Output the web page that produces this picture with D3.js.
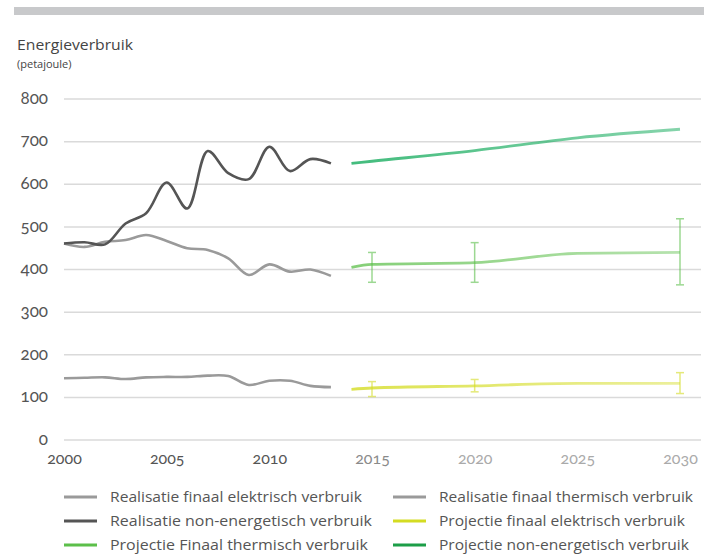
<!DOCTYPE html>
<html>
<head>
<meta charset="utf-8">
<script src="https://cdn.jsdelivr.net/npm/d3@7/dist/d3.min.js"></script>
<style>
  html, body { margin: 0; padding: 0; background: #fff; }
  svg { display: block; font-family: "Open Sans", "Noto Sans", sans-serif; }
  .num { font-family: "Lato", "Open Sans", sans-serif; font-feature-settings: "onum" 1; font-variant-numeric: oldstyle-nums; }
</style>
</head>
<body>
<svg id="chart" width="704" height="554"></svg>
<script>
// Historical years and values (petajoule)
const histYears = [2000, 2001, 2002, 2003, 2004, 2005, 2006, 2007, 2008, 2009, 2010, 2011, 2012, 2013];
const realElektrisch = [145, 146, 147, 143, 147, 148, 148, 151, 150, 129, 139, 139, 127, 124];
const realThermisch  = [461, 453, 465, 469, 481, 467, 450, 446, 426, 387, 412, 395, 400, 385];
const realNonEnerg   = [461, 464, 459, 508, 532, 604, 543, 678, 626, 612, 688, 631, 659, 649];

// Projection years and values
const projYears = [2014, 2015, 2020, 2025, 2030];
const projElektrisch = [119, 122, 127, 133, 133];
const projThermisch  = [405, 412, 416, 438, 440];
const projNonEnerg   = [649, 654, 679, 709, 729];

// Uncertainty ranges for projections: [year, low, high]
const errElektrisch = [[2015, 102, 137], [2020, 113, 142], [2030, 109, 158]];
const errThermisch  = [[2015, 370, 440], [2020, 370, 463], [2030, 364, 519]];

const yTicks = [0, 100, 200, 300, 400, 500, 600, 700, 800];
const xTicks = [2000, 2005, 2010, 2015, 2020, 2025, 2030];

const legendItems = [
  { label: "Realisatie finaal elektrisch verbruik", color: "#9a9a9a" },
  { label: "Realisatie finaal thermisch verbruik", color: "#9a9a9a" },
  { label: "Realisatie non-energetisch verbruik", color: "#555555" },
  { label: "Projectie finaal elektrisch verbruik", color: "#d4dc22" },
  { label: "Projectie Finaal thermisch verbruik", color: "#5cbf4a" },
  { label: "Projectie non-energetisch verbruik", color: "#1c9e48" }
];

const svg = d3.select("#chart");

const x = d3.scaleLinear().domain([2000, 2030]).range([64, 680]);
const y = d3.scaleLinear().domain([0, 800]).range([440, 99]);

// top rule
svg.append("rect").attr("x", 14).attr("y", 7).attr("width", 690).attr("height", 8).attr("fill", "#c8c9cb");

// titles
svg.append("text").attr("x", 17).attr("y", 50).attr("font-size", 15).attr("fill", "#444")
  .attr("textLength", 116).attr("lengthAdjust", "spacingAndGlyphs").text("Energieverbruik");
svg.append("text").attr("x", 17).attr("y", 68).attr("font-size", 11).attr("fill", "#444").text("(petajoule)");

// grid
svg.append("g").selectAll("line").data(yTicks).join("line")
  .attr("x1", 64).attr("x2", 701)
  .attr("y1", d => y(d)).attr("y2", d => y(d))
  .attr("stroke", "#dadada").attr("stroke-width", 1.5);

// y axis labels
const yAxis = d3.axisLeft(y).tickValues(yTicks).tickSize(0).tickPadding(0);
const gy = svg.append("g").attr("transform", "translate(48,0)").call(yAxis);
gy.select(".domain").remove();
gy.selectAll("text").attr("class", "num").attr("font-size", 17).attr("fill", "#555")
  .attr("dy", "0.25em");

// x axis labels
const xAxis = d3.axisBottom(x).tickValues(xTicks).tickFormat(d3.format("d")).tickSize(0).tickPadding(0);
const gx = svg.append("g").attr("transform", "translate(0,453)").call(xAxis);
gx.select(".domain").remove();
gx.selectAll("text").attr("class", "num").attr("font-size", 16)
  .attr("fill", d => d <= 2010 ? "#555" : (d === 2015 ? "#8a8a8a" : "#aaa"));

const line = d3.line().curve(d3.curveCatmullRom.alpha(0.5));

function hist(values, color) {
  svg.append("path")
    .attr("d", line(histYears.map((yr, i) => [x(yr), y(values[i])])))
    .attr("fill", "none").attr("stroke", color).attr("stroke-width", 2.6);
}
hist(realElektrisch, "#9a9a9a");
hist(realThermisch, "#9a9a9a");
hist(realNonEnerg, "#555555");

// projections fade towards the horizon
const defs = svg.append("defs");
function fade(id, color, o1, o2) {
  const g = defs.append("linearGradient").attr("id", id)
    .attr("gradientUnits", "userSpaceOnUse")
    .attr("x1", x(2014)).attr("x2", x(2030)).attr("y1", 0).attr("y2", 0);
  g.append("stop").attr("offset", "0%").attr("stop-color", color).attr("stop-opacity", o1);
  g.append("stop").attr("offset", "100%").attr("stop-color", color).attr("stop-opacity", o2);
}
fade("gNon", "#22b066", 0.85, 0.55);
fade("gTherm", "#5cbf4a", 0.75, 0.45);
fade("gElek", "#d4dc22", 0.8, 0.45);

function errors(data, color, opac) {
  const g = svg.append("g").attr("stroke", color).attr("stroke-width", 1.5).attr("opacity", opac);
  data.forEach(([yr, lo, hi]) => {
    g.append("line").attr("x1", x(yr)).attr("x2", x(yr)).attr("y1", y(lo)).attr("y2", y(hi));
    g.append("line").attr("x1", x(yr) - 4).attr("x2", x(yr) + 4).attr("y1", y(lo)).attr("y2", y(lo));
    g.append("line").attr("x1", x(yr) - 4).attr("x2", x(yr) + 4).attr("y1", y(hi)).attr("y2", y(hi));
  });
}
errors(errThermisch, "#5cbf4a", 0.6);
errors(errElektrisch, "#d4dc22", 0.6);

const projLine = d3.line().curve(d3.curveMonotoneX);
function proj(values, grad) {
  svg.append("path")
    .attr("d", projLine(projYears.map((yr, i) => [x(yr), y(values[i])])))
    .attr("fill", "none").attr("stroke", `url(#${grad})`).attr("stroke-width", 2.8);
}
proj(projNonEnerg, "gNon");
proj(projThermisch, "gTherm");
proj(projElektrisch, "gElek");

// legend
const legendWidths = [252, 254, 262, 246, 258, 250];
const lg = svg.append("g");
legendItems.forEach((d, i) => {
  const col = i % 2, row = Math.floor(i / 2);
  const lx = col === 0 ? 64 : 393;
  const ly = 497 + row * 24;
  lg.append("line").attr("x1", lx).attr("x2", lx + 33).attr("y1", ly).attr("y2", ly)
    .attr("stroke", d.color).attr("stroke-width", 3);
  lg.append("text").attr("x", lx + 46).attr("y", ly + 5).attr("font-size", 15).attr("fill", "#555")
    .attr("textLength", legendWidths[i]).attr("lengthAdjust", "spacingAndGlyphs")
    .text(d.label);
});
</script>
</body>
</html>
